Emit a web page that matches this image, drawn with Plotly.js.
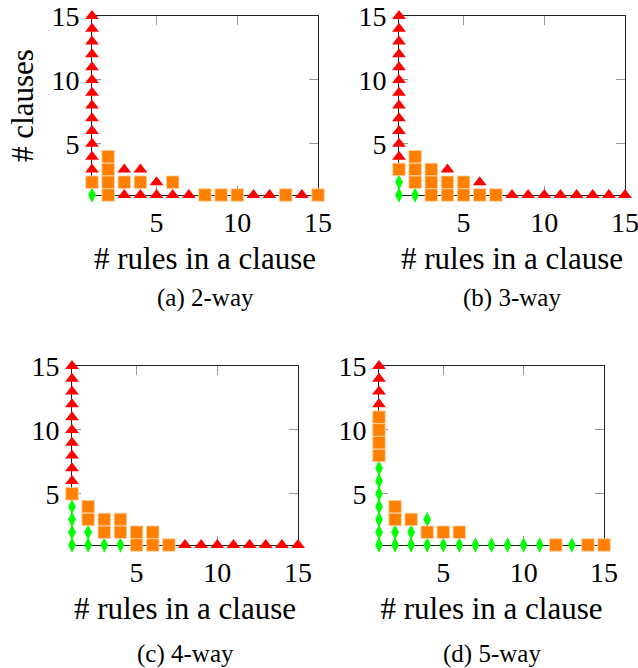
<!DOCTYPE html>
<html>
<head>
<meta charset="utf-8">
<script src="https://cdn.plot.ly/plotly-3.0.1.min.js"></script>
<style>html,body{margin:0;padding:0;background:#fff}#chart{width:638px;height:668px}</style>
</head>
<body>
<div id="chart"></div>
<script>
// (a) 2-way
const greenA_x = [1];
const greenA_y = [1];
const orangeA_x = [1, 2, 2, 2, 2, 3, 4, 6, 8, 9, 10, 13, 15];
const orangeA_y = [2, 1, 2, 3, 4, 2, 2, 2, 1, 1, 1, 1, 1];
const redA_x = [1,1,1,1,1,1,1,1,1,1,1,1,1, 3, 3, 4, 4, 5, 5, 6, 7, 11, 12, 14];
const redA_y = [3,4,5,6,7,8,9,10,11,12,13,14,15, 1, 3, 1, 3, 1, 2, 1, 1, 1, 1, 1];

// (b) 3-way
const greenB_x = [1, 1, 2];
const greenB_y = [1, 2, 1];
const orangeB_x = [1, 2, 2, 2, 3, 3, 3, 4, 4, 5, 5, 6, 7];
const orangeB_y = [3, 2, 3, 4, 1, 2, 3, 1, 2, 1, 2, 1, 1];
const redB_x = [1,1,1,1,1,1,1,1,1,1,1,1, 4, 6, 8, 9, 10, 11, 12, 13, 14, 15];
const redB_y = [4,5,6,7,8,9,10,11,12,13,14,15, 3, 2, 1, 1, 1, 1, 1, 1, 1, 1];

// (c) 4-way
const greenC_x = [1, 1, 1, 1, 2, 2, 3, 4];
const greenC_y = [1, 2, 3, 4, 1, 2, 1, 1];
const orangeC_x = [1, 2, 2, 3, 3, 4, 4, 5, 5, 6, 6, 7];
const orangeC_y = [5, 3, 4, 2, 3, 2, 3, 1, 2, 1, 2, 1];
const redC_x = [1,1,1,1,1,1,1,1,1,1, 8, 9, 10, 11, 12, 13, 14, 15];
const redC_y = [6,7,8,9,10,11,12,13,14,15, 1, 1, 1, 1, 1, 1, 1, 1];

// (d) 5-way
const greenD_x = [1,1,1,1,1,1,1, 2, 2, 3, 3, 4, 4, 5, 6, 7, 8, 9, 10, 11, 13];
const greenD_y = [1,2,3,4,5,6,7, 1, 2, 1, 2, 1, 3, 1, 1, 1, 1, 1, 1, 1, 1];
const orangeD_x = [1, 1, 1, 1, 2, 2, 3, 4, 5, 6, 12, 14, 15];
const orangeD_y = [8, 9, 10, 11, 3, 4, 3, 2, 2, 2, 1, 1, 1];
const redD_x = [1, 1, 1, 1];
const redD_y = [12, 13, 14, 15];

const tickVals = [5, 10, 15];
const tickText = ['5', '10', '15'];
const xTitle = '# rules in a clause';
const yTitle = '# clauses';
const captions = ['(a) 2-way', '(b) 3-way', '(c) 4-way', '(d) 5-way'];

const FONT = "'Liberation Serif', 'Times New Roman', Times, 'DejaVu Serif', serif";
const W = 638, H = 668;
const RED = '#ff0000', ORANGE = '#ff8000', GREEN = '#00ff00';

const panels = [
  {g:[greenA_x, greenA_y], o:[orangeA_x, orangeA_y], r:[redA_x, redA_y], px:[92,318], py:[16,195], cap:298},
  {g:[greenB_x, greenB_y], o:[orangeB_x, orangeB_y], r:[redB_x, redB_y], px:[399,625], py:[16,195], cap:298},
  {g:[greenC_x, greenC_y], o:[orangeC_x, orangeC_y], r:[redC_x, redC_y], px:[72,298], py:[366,545], cap:654},
  {g:[greenD_x, greenD_y], o:[orangeD_x, orangeD_y], r:[redD_x, redD_y], px:[379,604], py:[366,545], cap:654}
];

const data = [];
const layout = {
  width: W, height: H,
  margin: {l:0, r:0, t:0, b:0},
  paper_bgcolor: '#fff', plot_bgcolor: '#fff',
  showlegend: false,
  font: {family: FONT, color: '#000', size: 28},
  annotations: []
};

panels.forEach((p, i) => {
  const n = i + 1;
  const xa = n === 1 ? 'x' : 'x' + n;
  const ya = n === 1 ? 'y' : 'y' + n;
  const common = {xaxis: xa, yaxis: ya, mode: 'markers', type: 'scatter', cliponaxis: false, hoverinfo: 'skip'};
  data.push(Object.assign({}, common, {x: p.g[0], y: p.g[1],
    marker: {symbol: 'diamond-tall', size: 11, color: GREEN}}));
  data.push(Object.assign({}, common, {x: p.o[0], y: p.o[1],
    marker: {symbol: 'square', size: 12.5, color: ORANGE, line: {color: '#ffd2a6', width: 0.8}}}));
  data.push(Object.assign({}, common, {x: p.r[0], y: p.r[1],
    marker: {symbol: 'triangle-up', size: 12, color: RED}}));

  const axBase = {
    range: [1, 15], autorange: false, fixedrange: true,
    showgrid: false, zeroline: false,
    showline: true, linecolor: '#222', linewidth: 1, mirror: 'ticks',
    ticks: 'inside', ticklen: 9, tickwidth: 1, tickcolor: '#999',
    tickvals: tickVals, ticktext: tickText,
    tickfont: {family: FONT, size: 28, color: '#000'},
    ticklabeloverflow: 'allow',
    layer: 'below traces'
  };
  layout['xaxis' + (n === 1 ? '' : n)] = Object.assign({}, axBase, {
    domain: [p.px[0] / W, p.px[1] / W], anchor: ya,
    ticklabelstandoff: 2,
    title: {text: xTitle, font: {family: FONT, size: 31, color: '#000'}, standoff: 10}
  });
  layout['yaxis' + (n === 1 ? '' : n)] = Object.assign({}, axBase, {
    domain: [1 - p.py[1] / H, 1 - p.py[0] / H], anchor: xa,
    ticklabelstandoff: 6,
    title: n === 1 ? {text: yTitle, font: {family: FONT, size: 31, color: '#000'}, standoff: 8} : {text: ''}
  });
  layout.annotations.push({
    text: captions[i], xref: 'paper', yref: 'paper',
    x: (p.px[0] + p.px[1]) / 2 / W, y: 1 - p.cap / H,
    xanchor: 'center', yanchor: 'middle', showarrow: false,
    font: {family: FONT, size: 25, color: '#000'}
  });
});

Plotly.newPlot('chart', data, layout, {staticPlot: true, displayModeBar: false});
</script>
</body>
</html>
